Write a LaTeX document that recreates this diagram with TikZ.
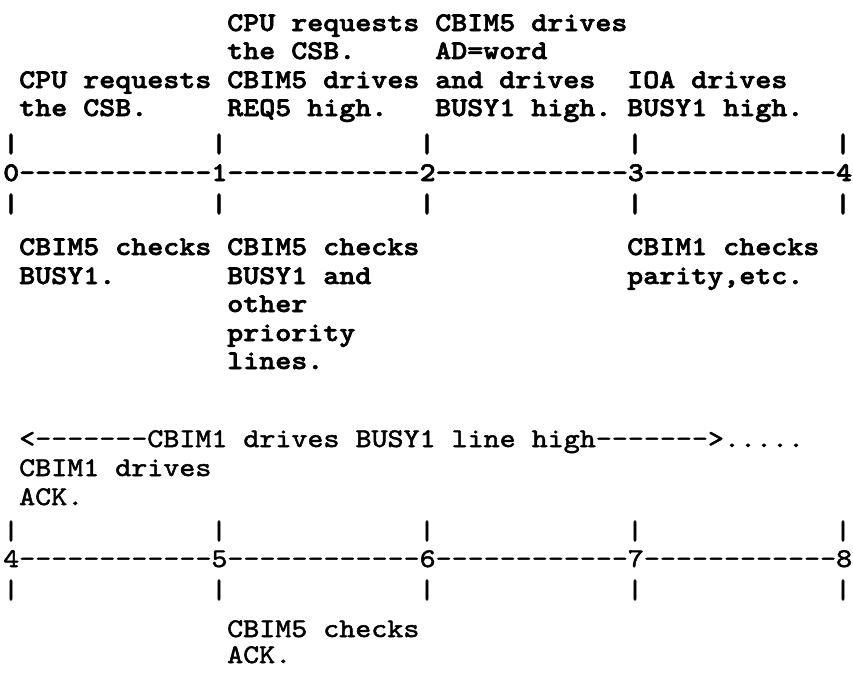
\documentclass[tikz,border=0pt]{standalone}
\usepackage{fontspec}
\newfontfamily\ttreg[FakeStretch=1.13,FakeBold=1.8]{lmmono10-regular.otf}
\newfontfamily\ttbld[FakeStretch=1.13,FakeBold=2.2]{lmmonolt10-bold.otf}
\begin{document}
\begin{tikzpicture}[x=1pt,y=1pt,
  heavy/.style={font=\ttbld\fontsize{27}{27}\selectfont, inner sep=0pt, anchor=base west},
  light/.style={font=\ttreg\fontsize{27}{27}\selectfont, inner sep=0pt, anchor=base west},
  tickB/.style={font=\ttbld\fontsize{27}{27}\selectfont, inner sep=0pt, anchor=center},
  tickL/.style={font=\ttreg\fontsize{27}{27}\selectfont, inner sep=0pt, anchor=center}]
\useasboundingbox (0,0) rectangle (853,-675);

% ---- first time line: cycles 0 to 4 ----
\node[heavy] (u1) at (227,-31) {CPU requests};
\node[heavy] (u2) at (435,-31) {CBIM5 drives};
\node[heavy] (u3) at (227,-59) {the CSB.};
\node[heavy] (u4) at (435,-59) {AD=word};
\node[heavy] (u5) at (19,-88)  {CPU requests};
\node[heavy] (u6) at (227,-88) {CBIM5 drives};
\node[heavy] (u7) at (435,-88) {and drives};
\node[heavy] (u8) at (627,-88) {IOA drives};
\node[heavy] (u9) at (19,-116) {the CSB.};
\node[heavy] (u10) at (227,-116) {REQ5 high.};
\node[heavy] (u11) at (435,-116) {BUSY1 high.};
\node[heavy] (u12) at (627,-116) {BUSY1 high.};

\foreach \c [count=\i] in {0,13,26,39,52}{
  \node[tickB] (ta\i) at ({11+16*\c},-144) {|};
  \node[tickB] (tb\i) at ({11+16*\c},-204) {|};
}
\node[heavy] (line1) at (3,-181) {0------------1------------2------------3------------4};

\node[heavy] (d1) at (19,-255)  {CBIM5 checks};
\node[heavy] (d2) at (227,-255) {CBIM5 checks};
\node[heavy] (d3) at (627,-255) {CBIM1 checks};
\node[heavy] (d4) at (19,-284)  {BUSY1.};
\node[heavy] (d5) at (227,-284) {BUSY1 and};
\node[heavy] (d6) at (627,-284) {parity,etc.};
\node[heavy] (d7) at (227,-312) {other};
\node[heavy] (d8) at (227,-341) {priority};
\node[heavy] (d9) at (227,-369) {lines.};

% ---- second time line: cycles 4 to 8 ----
\node[light] (busy) at (19,-447) {<-------CBIM1 drives BUSY1 line high------->.....};
\node[light] (v1) at (19,-476) {CBIM1 drives};
\node[light] (v2) at (19,-505) {ACK.};

\foreach \c [count=\i] in {0,13,26,39,52}{
  \node[tickL] (tc\i) at ({11+16*\c},-531) {|};
  \node[tickL] (td\i) at ({11+16*\c},-590) {|};
}
\node[light] (line2) at (3,-567) {4------------5------------6------------7------------8};

\node[light] (w1) at (227,-637) {CBIM5 checks};
\node[light] (w2) at (227,-663) {ACK.};
\end{tikzpicture}
\end{document}
